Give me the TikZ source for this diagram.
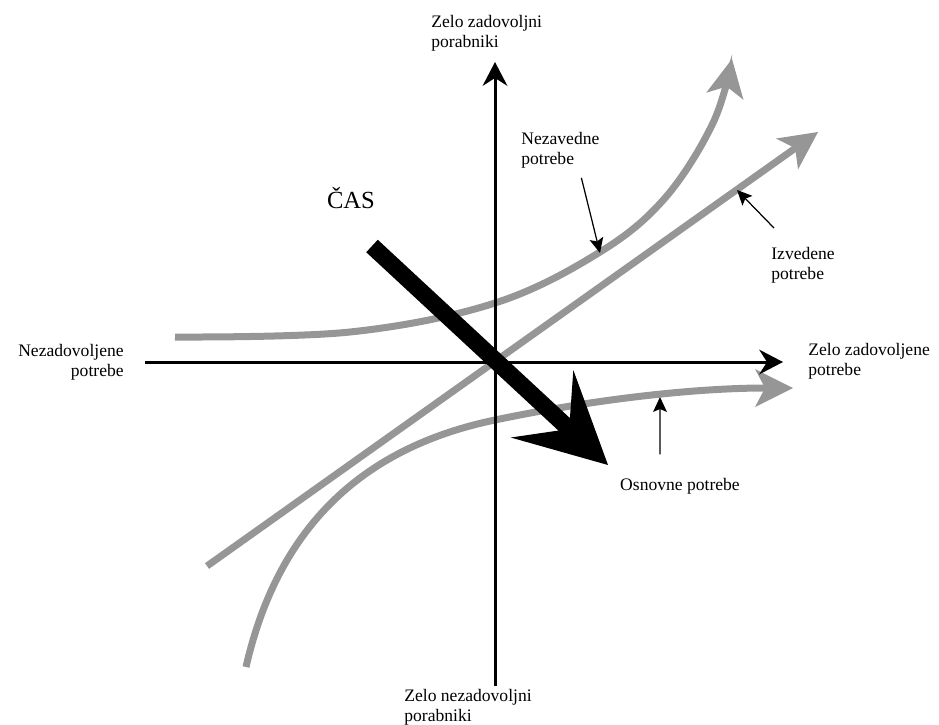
\documentclass[tikz,border=0pt]{standalone}
\usepackage{fontspec}
\setmainfont{Liberation Serif}
\newfontfamily\diagfont{Liberation Serif}
\usetikzlibrary{arrows.meta}
\definecolor{curvegray}{RGB}{150,150,150}

\begin{document}
\begin{tikzpicture}[x=0.02cm, y=-0.02cm,
  lbl/.style={font=\diagfont\fontsize{10}{11.5}\selectfont, inner sep=0pt},
  axis/.style={line width=0.06cm,
               -{Stealth[length=0.48cm, width=0.5cm, inset=0.16cm, line width=0pt]}},
  need/.style={line width=0.14cm, curvegray,
               -{Stealth[length=0.76cm, width=0.76cm, inset=0.2cm, line width=0pt]}},
  pointer/.style={line width=0.7pt,
               -{Stealth[length=0.3cm, width=0.28cm, inset=0.06cm, line width=0pt]}},
  time/.style={line width=0.34cm,
               -{Stealth[length=1.8cm, width=1.84cm, inset=0.74cm, line width=0pt]}},
]
\useasboundingbox (0,0) rectangle (939,724);

%% Need curves (gray)
\draw[need] plot[smooth, tension=0.6] coordinates
  {(175,337) (350,332) (495,303) (600,252) (665,198) (713,123) (732,59)};
\draw[need] (207,566) -- (818,132);
\draw[need] (246,667) .. controls (275,540) and (350,450) .. (495,420)
  .. controls (600,398) and (700,388) .. (793,388);

%% Axes
\coordinate (x-from) at (145,362);
\coordinate (x-to)   at (783,362);
\coordinate (y-from) at (495,686);
\coordinate (y-to)   at (495,62);
\draw[axis] (x-from) -- (x-to);
\draw[axis] (y-from) -- (y-to);

%% Axis labels
\node[lbl, anchor=north west, align=left] (top) at (431,15)
  {Zelo zadovoljni\\porabniki};
\node[lbl, anchor=north west, align=left] (bottom) at (404,689)
  {Zelo nezadovoljni\\porabniki};
\node[lbl, anchor=north east, align=right] (left) at (124,344)
  {Nezadovoljene\\potrebe};
\node[lbl, anchor=north west, align=left] (right) at (808,343)
  {Zelo zadovoljene\\potrebe};

%% Curve labels with pointers
\node[lbl, anchor=north west, align=left] (nezavedne) at (521,132)
  {Nezavedne\\potrebe};
\node[lbl, anchor=north west, align=left] (izvedene) at (771,247)
  {Izvedene\\potrebe};
\node[lbl, anchor=base] (osnovne) at (680,490) {Osnovne potrebe};
\coordinate (nez-pt) at (600,253);
\coordinate (izv-pt) at (737,190);
\coordinate (osn-pt) at (660,397);
\draw[pointer] ([xshift=0.42cm, yshift=-0.18cm]nezavedne.south) -- (nez-pt);
\draw[pointer] ([xshift=0.06cm, yshift=0.38cm]izvedene.north west) -- (izv-pt);
\draw[pointer] ([xshift=-0.4cm, yshift=0.46cm]osnovne.north) -- (osn-pt);

%% Time arrow
\node[font=\diagfont\fontsize{14}{16}\selectfont, inner sep=0pt, anchor=base] (cas) at (351,208) {ČAS};
\coordinate (cas-from) at (372,246);
\coordinate (cas-to)   at (608,465);
\draw[time] (cas-from) -- (cas-to);
\end{tikzpicture}
\end{document}
